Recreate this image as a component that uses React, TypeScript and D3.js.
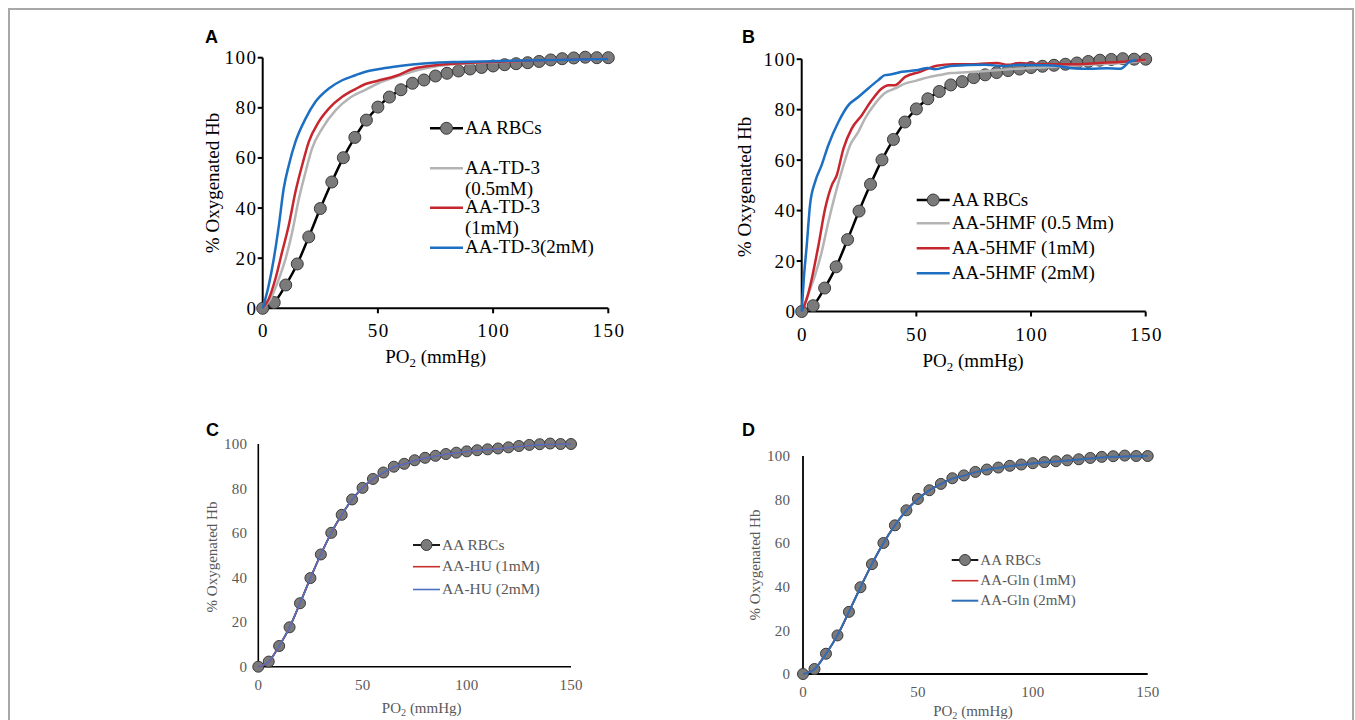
import * as d3 from 'd3';

type Pt = [number, number];

// PO2 (mmHg) steps for the AA RBCs control curve
const po2 = [0, 5, 10, 15, 20, 25, 30, 35, 40, 45, 50, 55, 60, 65, 70, 75, 80, 85, 90, 95, 100, 105, 110, 115, 120, 125, 130, 135, 140, 145, 150];
const aaRBCs = [0, 2.3, 9.3, 17.7, 28.5, 39.8, 50.4, 60.1, 68.2, 75.1, 80.3, 84.3, 87.2, 89.8, 91.1, 92.7, 93.8, 94.7, 95.5, 96.1, 96.7, 97.2, 97.6, 98.0, 98.5, 99.1, 99.6, 99.9, 100.2, 100, 100];

// panel C / D curves (same PO2 steps)
const hu1mM = [0, 2.2, 9.2, 17.8, 28.6, 39.7, 50.5, 60.0, 68.1, 75.0, 80.2, 84.2, 87.1, 89.6, 91.0, 92.6, 93.7, 94.6, 95.4, 96.0, 96.6, 97.1, 97.5, 97.9, 98.4, 98.9, 99.3, 99.6, 99.8, 99.9, 100];
const hu2mM = [0, 2.3, 9.3, 17.7, 28.5, 39.8, 50.4, 60.1, 68.2, 75.1, 80.3, 84.3, 87.2, 89.7, 91.0, 92.6, 93.7, 94.6, 95.4, 96.0, 96.6, 97.1, 97.5, 97.9, 98.4, 98.9, 99.3, 99.6, 99.8, 99.9, 100];
const gln1mM = [0, 2.3, 9.3, 17.7, 28.5, 39.8, 50.4, 60.1, 68.2, 75.1, 80.3, 84.3, 87.2, 89.7, 91.0, 92.6, 93.7, 94.6, 95.4, 96.0, 96.6, 97.1, 97.5, 97.9, 98.4, 98.9, 99.3, 99.6, 99.8, 99.9, 100];
const gln2mM = [0, 2.2, 9.2, 17.8, 28.6, 39.7, 50.5, 60.0, 68.1, 75.0, 80.2, 84.2, 87.1, 89.6, 91.0, 92.6, 93.7, 94.6, 95.4, 96.0, 96.6, 97.1, 97.5, 97.9, 98.4, 98.9, 99.3, 99.6, 99.8, 99.9, 100];

// panel A: TD-3
const td3_05mM: Pt[] = [[0, 0], [3.3, 3.7], [7, 11.7], [9.9, 19.7], [12.8, 30.4], [15.7, 43.7], [18.6, 54.4], [21.4, 63.7], [25.8, 71.7], [31.6, 79], [37.4, 83.7], [44.6, 87.2], [50, 89.7], [60, 93], [67, 95], [75, 96.5], [85, 97.5], [100, 98.2], [115, 98.8], [130, 99.2], [150, 99.6]];
const td3_1mM: Pt[] = [[0, 0], [2.6, 3.7], [5.5, 11.7], [8.4, 22.4], [11.3, 33], [14.2, 46.4], [17.1, 57], [20, 66.4], [24.3, 74.4], [28.7, 79.7], [34.5, 84.4], [40.3, 87.5], [44.6, 89.5], [50, 90.8], [58, 92.8], [65, 95.5], [75, 97], [85, 97.7], [100, 98.3], [115, 98.8], [130, 99.2], [150, 99.6]];
const td3_2mM: Pt[] = [[0, 0], [2.6, 9.1], [4.8, 19.7], [7, 33], [9.1, 47.7], [11.3, 57], [14.2, 66.4], [18.6, 75.7], [22.9, 82.4], [28.7, 87.7], [34.5, 91], [40.3, 93], [44.6, 94.4], [50, 95.4], [57, 96.4], [65, 97.3], [75, 98], [85, 98.3], [100, 98.6], [120, 99], [150, 99.5]];

// panel B: 5HMF
const hmf_05mM: Pt[] = [[0, 0], [2.5, 6], [5.8, 14.3], [8.7, 23.5], [11.6, 35.4], [14.5, 46], [18.2, 57.9], [21.1, 65.9], [24.7, 71.2], [27.6, 76.5], [32, 82.4], [36.3, 86.6], [40.7, 88.4], [45, 90.3], [50, 91.5], [55, 92.8], [60, 93.7], [65, 94.5], [70, 94.7], [80, 95.3], [90, 96], [100, 96.5], [110, 97], [120, 97.5], [130, 98], [140, 98.5], [150, 99.5]];
const hmf_1mM: Pt[] = [[0, 0], [2.2, 5], [4.4, 13], [7.3, 26.2], [10.2, 40.7], [13.1, 50], [15.3, 54], [18.2, 64.6], [21.8, 72.5], [26.2, 77.8], [30.5, 83.7], [34.9, 88.4], [37.8, 89.7], [40.7, 89.7], [45.1, 93], [51.6, 95], [58.9, 97.4], [66, 98], [75, 98], [85, 98.5], [90, 97.8], [95, 98.5], [100, 98.2], [110, 98], [120, 98], [130, 98.5], [140, 99], [150, 99.8]];
const hmf_2mM: Pt[] = [[0, 0], [1, 14], [2.2, 26.2], [3.6, 42], [5.8, 51.3], [8.7, 58], [11.6, 65.9], [16, 75.1], [20.3, 81.7], [24.7, 85], [29, 88.4], [33.4, 91.7], [36.3, 93.7], [39.2, 94], [43.6, 95], [50, 95.6], [55, 96.5], [58, 96], [65, 97.3], [80, 97.8], [88, 97.3], [95, 97.8], [104, 97.6], [111, 97.4], [118, 96.4], [126, 96.2], [133, 96.4], [139, 96.2], [143, 99], [146, 99.7]];

const xTicks = [0, 50, 100, 150];
const yTicks = [0, 20, 40, 60, 80, 100];

const zip = (vals: number[]): Pt[] => vals.map((v, i) => [po2[i], v]);

const SERIF = '"Liberation Serif", "Times New Roman", serif';
const SANS = '"Liberation Sans", Arial, sans-serif';

interface Series { label: string[]; data: Pt[]; color: string; width: number; markers?: boolean }

interface PanelDef {
  letter: string;
  letterPos: [number, number];
  xRange: [number, number];
  yRange: [number, number];
  series: Series[];
  legendX: number; // start of legend line
  legendRows: number[]; // y of each entry
  legendLine: number;
  textColor: string;
  tickSize: number;
  tickSpacing: number;
  legendSize: number;
  titleSize: number;
  xTickY: number;
  yTickX: number;
  xTitle: [number, number];
  yTitle: [number, number];
  axisWidth: number;
  ticks: boolean;
  r: number;
  lineGap: number;
}

const panels: PanelDef[] = [
  {
    letter: 'A', letterPos: [205, 43], xRange: [262.7, 608.3], yRange: [308.3, 57.7],
    series: [
      { label: ['AA RBCs'], data: zip(aaRBCs), color: '#000', width: 2.5, markers: true },
      { label: ['AA-TD-3', '(0.5mM)'], data: td3_05mM, color: '#b4b4b4', width: 2.5 },
      { label: ['AA-TD-3', '(1mM)'], data: td3_1mM, color: '#c6262e', width: 2.5 },
      { label: ['AA-TD-3(2mM)'], data: td3_2mM, color: '#1d6fc2', width: 2.5 },
    ],
    legendX: 430, legendRows: [128.3, 168.3, 207.7, 247.7], legendLine: 33,
    textColor: '#000', tickSize: 19, tickSpacing: 1.5, legendSize: 19, titleSize: 19,
    xTickY: 337, yTickX: 256, xTitle: [435.7, 363], yTitle: [219, 183],
    axisWidth: 2, ticks: true, r: 6, lineGap: 21,
  },
  {
    letter: 'B', letterPos: [742, 43], xRange: [801.7, 1145.7], yRange: [311.5, 59.2],
    series: [
      { label: ['AA RBCs'], data: zip(aaRBCs), color: '#000', width: 2.5, markers: true },
      { label: ['AA-5HMF (0.5 Mm)'], data: hmf_05mM, color: '#b4b4b4', width: 2.5 },
      { label: ['AA-5HMF (1mM)'], data: hmf_1mM, color: '#c6262e', width: 2.5 },
      { label: ['AA-5HMF (2mM)'], data: hmf_2mM, color: '#1d6fc2', width: 2.5 },
    ],
    legendX: 916.7, legendRows: [200, 223.3, 248.3, 273.3], legendLine: 33,
    textColor: '#000', tickSize: 19, tickSpacing: 1.5, legendSize: 19, titleSize: 19,
    xTickY: 340.5, yTickX: 795, xTitle: [973, 367], yTitle: [751, 187],
    axisWidth: 2, ticks: true, r: 6, lineGap: 21,
  },
  {
    letter: 'C', letterPos: [206, 436], xRange: [258.3, 571], yRange: [666.7, 444],
    series: [
      { label: ['AA RBCs'], data: zip(aaRBCs), color: '#000', width: 1.8, markers: true },
      { label: ['AA-HU (1mM)'], data: zip(hu1mM), color: '#c9302c', width: 1.6 },
      { label: ['AA-HU (2mM)'], data: zip(hu2mM), color: '#4f73c4', width: 1.6 },
    ],
    legendX: 413, legendRows: [545, 566.7, 589.5], legendLine: 27,
    textColor: '#595959', tickSize: 15, tickSpacing: 0.3, legendSize: 15.5, titleSize: 15,
    xTickY: 690, yTickX: 247, xTitle: [421.7, 713], yTitle: [217, 557],
    axisWidth: 1.6, ticks: false, r: 5.5, lineGap: 18,
  },
  {
    letter: 'D', letterPos: [742, 436], xRange: [803, 1147.7], yRange: [674, 456],
    series: [
      { label: ['AA RBCs'], data: zip(aaRBCs), color: '#000', width: 1.8, markers: true },
      { label: ['AA-Gln (1mM)'], data: zip(gln1mM), color: '#c9302c', width: 1.6 },
      { label: ['AA-Gln (2mM)'], data: zip(gln2mM), color: '#2f6fb8', width: 2 },
    ],
    legendX: 951.7, legendRows: [560, 580.7, 600.7], legendLine: 26.6,
    textColor: '#595959', tickSize: 15, tickSpacing: 0.3, legendSize: 15, titleSize: 15,
    xTickY: 697, yTickX: 790, xTitle: [973, 716], yTitle: [760, 565],
    axisWidth: 1.8, ticks: false, r: 5.5, lineGap: 18,
  },
];

function Po2Label({ x, y, size, color }: { x: number; y: number; size: number; color: string }) {
  return (
    <text x={x} y={y} textAnchor="middle" fontFamily={SERIF} fontSize={size} fill={color}>
      PO<tspan fontSize={size * 0.68} dy={size * 0.22}>2</tspan>
      <tspan dy={-size * 0.22}> (mmHg)</tspan>
    </text>
  );
}

function Panel({ p }: { p: PanelDef }) {
  const x = d3.scaleLinear().domain([0, 150]).range(p.xRange);
  const y = d3.scaleLinear().domain([0, 100]).range(p.yRange);
  const line = d3.line<Pt>().x((d) => x(d[0])).y((d) => y(d[1])).curve(d3.curveMonotoneX);
  const base = p.series[0];
  const markerFill = '#7a7a7a';
  const markerStroke = '#3a3a3a';
  return (
    <g>
      <text x={p.letterPos[0]} y={p.letterPos[1]} fontFamily={SANS} fontWeight="bold" fontSize={18} fill="#000">
        {p.letter}
      </text>
      {/* axes */}
      <line x1={x(0)} x2={x(0)} y1={y(100)} y2={y(0)} stroke="#000" strokeWidth={p.axisWidth} />
      <line x1={x(0)} x2={x(150)} y1={y(0)} y2={y(0)} stroke="#000" strokeWidth={p.axisWidth} />
      {p.ticks && yTicks.map((t) => (
        <line key={'yt' + t} x1={x(0) - 5} x2={x(0)} y1={y(t)} y2={y(t)} stroke="#000" strokeWidth={p.axisWidth} />
      ))}
      {p.ticks && xTicks.map((t) => (
        <line key={'xt' + t} x1={x(t)} x2={x(t)} y1={y(0)} y2={y(0) + 5} stroke="#000" strokeWidth={p.axisWidth} />
      ))}
      {yTicks.map((t) => (
        <text key={'yl' + t} x={p.yTickX + p.tickSpacing} y={y(t) + p.tickSize * 0.34} textAnchor="end" letterSpacing={p.tickSpacing} fontFamily={SERIF} fontSize={p.tickSize} fill={p.textColor}>
          {t}
        </text>
      ))}
      {xTicks.map((t) => (
        <text key={'xl' + t} x={x(t) + p.tickSpacing / 2} y={p.xTickY} textAnchor="middle" letterSpacing={p.tickSpacing} fontFamily={SERIF} fontSize={p.tickSize} fill={p.textColor}>
          {t}
        </text>
      ))}
      <text transform={`translate(${p.yTitle[0]},${p.yTitle[1]}) rotate(-90)`} textAnchor="middle" fontFamily={SERIF} fontSize={p.titleSize} fill={p.textColor}>
        % Oxygenated Hb
      </text>
      <Po2Label x={p.xTitle[0]} y={p.xTitle[1]} size={p.titleSize} color={p.textColor} />

      {/* control curve with markers */}
      <path d={line(base.data) ?? ''} fill="none" stroke={base.color} strokeWidth={base.width} />
      {base.data.map((d, i) => (
        <circle key={'m' + i} cx={x(d[0])} cy={y(d[1])} r={p.r} fill={markerFill} stroke={markerStroke} strokeWidth={1} />
      ))}
      {p.series.slice(1).map((s, i) => (
        <path key={'s' + i} d={line(s.data) ?? ''} fill="none" stroke={s.color} strokeWidth={s.width} strokeLinejoin="round" />
      ))}

      {/* legend */}
      {p.series.map((s, i) => {
        const ly = p.legendRows[i];
        return (
          <g key={'lg' + i}>
            <line x1={p.legendX} x2={p.legendX + p.legendLine} y1={ly} y2={ly} stroke={s.color} strokeWidth={s.width} />
            {s.markers && (
              <circle cx={p.legendX + p.legendLine / 2} cy={ly} r={p.r} fill={markerFill} stroke={markerStroke} strokeWidth={1} />
            )}
            <text x={p.legendX + p.legendLine + 2} y={ly + p.legendSize * 0.3} fontFamily={SERIF} fontSize={p.legendSize} fill={p.textColor}>
              {s.label.map((t, j) => (
                <tspan key={j} x={p.legendX + p.legendLine + 2} dy={j === 0 ? 0 : p.lineGap}>{t}</tspan>
              ))}
            </text>
          </g>
        );
      })}
    </g>
  );
}

export default function App() {
  return (
    <svg width={1355} height={720} style={{ position: 'absolute', left: 0, top: 0, background: '#fff' }}>
      <rect x={0} y={0} width={1355} height={720} fill="#fff" />
      <path d="M9,725 V9 H1353 V725" fill="none" stroke="#a8a8a8" strokeWidth={2} />
      {panels.map((p) => (
        <Panel key={p.letter} p={p} />
      ))}
    </svg>
  );
}
